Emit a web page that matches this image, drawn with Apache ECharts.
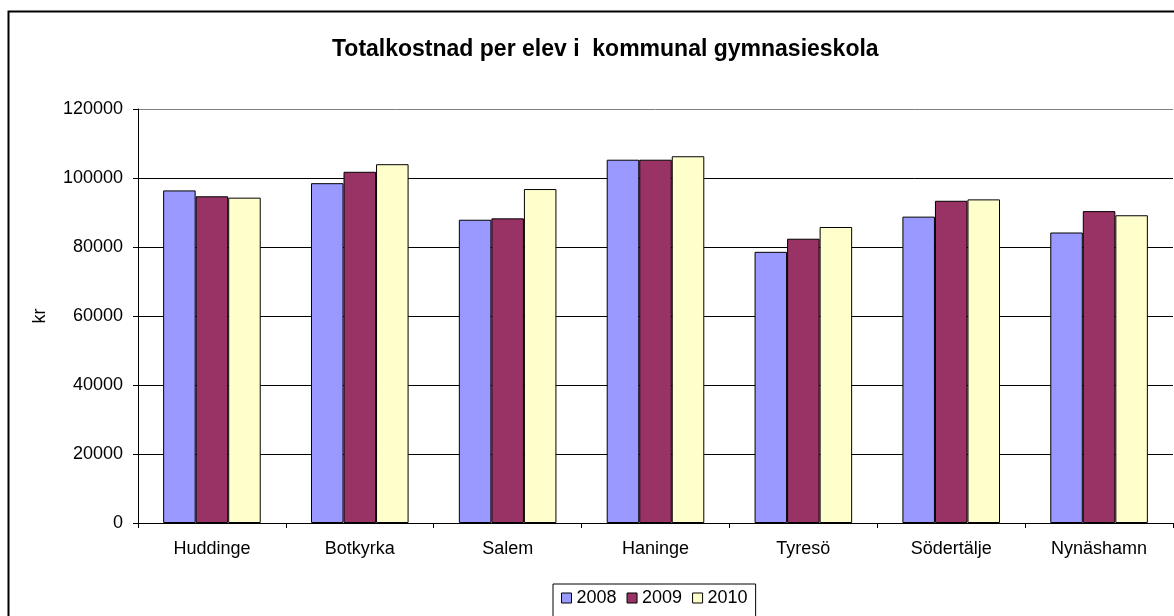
<!DOCTYPE html>
<html>
<head>
<meta charset="utf-8">
<script src="https://cdn.jsdelivr.net/npm/echarts@6/dist/echarts.min.js"></script>
<style>
  html, body { margin: 0; padding: 0; background: #fff; }
  #chart { width: 1174px; height: 616px; }
</style>
</head>
<body>
<div id="chart"></div>
<script>
// Data
const categories = ['Huddinge', 'Botkyrka', 'Salem', 'Haninge', 'Tyresö', 'Södertälje', 'Nynäshamn']
const years = ['2008', '2009', '2010']
const values2008 = [96400, 98500, 87900, 105300, 78600, 88800, 84200]
const values2009 = [94700, 101800, 88300, 105300, 82400, 93400, 90400]
const values2010 = [94300, 104000, 96800, 106300, 85800, 93800, 89200]
const yTicks = [0, 20000, 40000, 60000, 80000, 100000, 120000]

const colors = ['#9999FF', '#993366', '#FFFFCC']
const seriesValues = [values2008, values2009, values2010]

const chart = echarts.init(document.getElementById('chart'))

const font = 'Liberation Sans, Arial, sans-serif'

const option = {
  animation: false,
  textStyle: { fontFamily: font },
  title: {
    text: 'Totalkostnad per elev i  kommunal gymnasieskola',
    left: 327,
    top: 33,
    textStyle: { fontSize: 23, fontWeight: 'bold', color: '#000', fontFamily: font },
  },
  graphic: [
    {
      type: 'rect',
      left: 6,
      top: 9,
      shape: { x: 0, y: 0, width: 1200, height: 640 },
      style: { fill: 'none', stroke: '#000', lineWidth: 2 },
      silent: true,
      z: -1,
    },
  ],
  legend: {
    data: years,
    left: 553,
    top: 584,
    orient: 'horizontal',
    icon: 'rect',
    itemWidth: 10,
    itemHeight: 10,
    itemGap: 10,
    padding: [5, 8, 10, 8],
    borderColor: '#000',
    borderWidth: 1,
    backgroundColor: '#fff',
    itemStyle: { borderColor: '#000', borderWidth: 1 },
    textStyle: { fontSize: 18, color: '#000', fontFamily: font },
  },
  grid: {
    left: 138,
    right: 1,
    top: 109,
    bottom: 93,
    containLabel: false,
  },
  xAxis: {
    type: 'category',
    data: categories,
    boundaryGap: true,
    axisLine: { lineStyle: { color: '#000', width: 1 } },
    axisTick: { show: true, length: 5, lineStyle: { color: '#000' } },
    axisLabel: { color: '#000', fontSize: 18, margin: 17, fontFamily: font },
    splitLine: { show: false },
  },
  yAxis: {
    type: 'value',
    min: yTicks[0],
    max: yTicks[yTicks.length - 1],
    interval: yTicks[1] - yTicks[0],
    name: 'kr',
    nameLocation: 'middle',
    nameGap: 89,
    nameRotate: 90,
    nameTextStyle: { fontSize: 18, color: '#000', fontFamily: font },
    axisLine: { show: true, lineStyle: { color: '#000', width: 1 } },
    axisTick: { show: true, length: 5, lineStyle: { color: '#000' } },
    axisLabel: {
      color: '#000',
      fontSize: 18,
      margin: 15,
      fontFamily: font,
      formatter: (v) => String(v),
    },
    splitLine: {
      show: true,
      lineStyle: { color: ['#000', '#000', '#000', '#000', '#000', '#000', '#808080'], width: 1 },
    },
  },
  series: years.map((y, i) => ({
    name: y,
    type: 'bar',
    data: seriesValues[i],
    barGap: '0%',
    barCategoryGap: '34%',
    itemStyle: { color: colors[i], borderColor: '#000', borderWidth: 1 },
  })),
}

chart.setOption(option)
</script>
</body>
</html>
